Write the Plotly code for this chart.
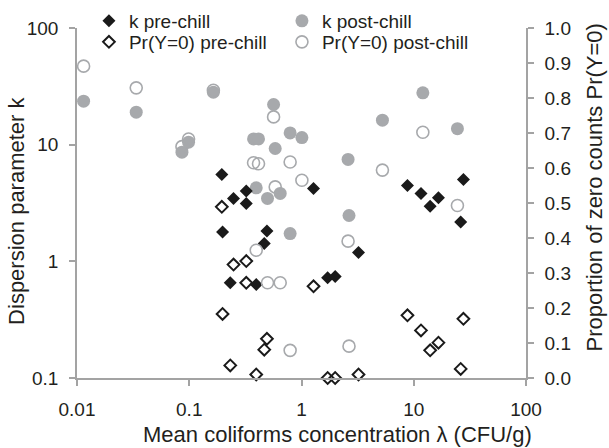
import plotly.graph_objects as go

# ---- data ----
# pre-chill: mean concentration, dispersion k, Pr(Y=0)
pre_lambda = [0.195, 0.198, 0.248, 0.322, 0.322, 0.232, 0.395, 0.492, 0.466, 1.28,
              1.71, 1.995, 3.22, 8.79, 11.6, 14.0, 16.6, 27.7, 26.2]
pre_k = [5.56, 1.78, 3.46, 4.00, 3.13, 0.656, 0.634, 1.82, 1.42, 4.22,
         0.724, 0.74, 1.19, 4.47, 3.82, 2.97, 3.51, 5.04, 2.17]
pre_p0 = [0.489, 0.183, 0.324, 0.334, 0.272, 0.036, 0.010, 0.112, 0.081, 0.262,
          0.0, 0.0, 0.010, 0.179, 0.136, 0.079, 0.101, 0.169, 0.026]

# post-chill
post_lambda = [0.01145, 0.0337, 0.0861, 0.0986, 0.164, 0.564, 0.374, 0.414, 0.583, 0.792,
               1.008, 0.395, 0.498, 0.646, 0.792, 2.6, 2.65, 5.26, 12.05, 24.5]
post_k = [23.6, 19.0, 8.63, 10.5, 28.2, 22.1, 11.2, 11.2, 9.27, 12.6,
          11.5, 4.27, 3.46, 3.82, 1.73, 7.47, 2.47, 16.2, 27.8, 13.7]
post_p0 = [0.891, 0.829, 0.661, 0.683, 0.822, 0.746, 0.615, 0.612, 0.546, 0.617,
           0.565, 0.365, 0.272, 0.272, 0.079, 0.391, 0.091, 0.594, 0.702, 0.493]

series_names = ["k pre-chill", "k post-chill", "Pr(Y=0) pre-chill", "Pr(Y=0) post-chill"]
x_title = "Mean coliforms concentration λ (CFU/g)"
y_title = "Dispersion parameter k"
y2_title = "Proportion of zero counts Pr(Y=0)"
x_ticks = [0.01, 0.1, 1, 10, 100]
x_ticklabels = ["0.01", "0.1", "1", "10", "100"]
y_ticks = [0.1, 1, 10, 100]
y_ticklabels = ["0.1", "1", "10", "100"]

FONT = "Liberation Sans, Arial, sans-serif"
TXT = "#231f20"
AX = "#a3a3a3"
GREY = "#a7a9ac"

fig = go.Figure()

fig.add_trace(go.Scatter(
    x=post_lambda, y=post_k, mode="markers", name=series_names[1], legend="legend", legendrank=2,
    marker=dict(symbol="circle", size=13, color=GREY, line=dict(width=0)),
    cliponaxis=False, yaxis="y"))
fig.add_trace(go.Scatter(
    x=post_lambda, y=post_p0, mode="markers", name=series_names[3], legend="legend2", legendrank=4,
    marker=dict(symbol="circle-open", size=12, color=GREY, line=dict(width=1.6)),
    cliponaxis=False, yaxis="y2"))
fig.add_trace(go.Scatter(
    x=pre_lambda, y=pre_k, mode="markers", name=series_names[0], legend="legend", legendrank=1,
    marker=dict(symbol="diamond", size=10, color="#1a1a1a", line=dict(width=0)),
    cliponaxis=False, yaxis="y"))
fig.add_trace(go.Scatter(
    x=pre_lambda, y=pre_p0, mode="markers", name=series_names[2], legend="legend2", legendrank=3,
    marker=dict(symbol="diamond-open", size=9, color="#1a1a1a", line=dict(width=2)),
    cliponaxis=False, yaxis="y2"))

axis_common = dict(showgrid=False, zeroline=False, showline=True, linecolor=AX, linewidth=1.5,
                   ticks="outside", ticklen=6, tickwidth=1.5, tickcolor=AX, automargin=False,
                   ticklabelstandoff=7,
                   tickfont=dict(family=FONT, size=19, color=TXT))

legend_common = dict(orientation="h", xanchor="left", yanchor="middle", x=0.0266,
                     entrywidth=148, bgcolor="rgba(0,0,0,0)",
                     font=dict(family=FONT, size=19, color=TXT), itemsizing="trace")

title_font = dict(family=FONT, size=22, color=TXT)

fig.update_layout(
    width=609, height=448,
    margin=dict(l=77, r=83, t=28, b=70, autoexpand=False),
    paper_bgcolor="white", plot_bgcolor="white",
    font=dict(family=FONT, color=TXT),
    showlegend=True,
    legend=dict(y=1.02, **legend_common),
    legend2=dict(y=0.96, **legend_common),
    xaxis=dict(type="log", range=[-2, 2], tickvals=x_ticks, ticktext=x_ticklabels, **axis_common),
    yaxis=dict(type="log", range=[-1, 2], tickvals=y_ticks, ticktext=y_ticklabels, **axis_common),
    yaxis2=dict(overlaying="y", side="right", range=[0, 1], dtick=0.1, tick0=0,
                tickformat=".1f", **axis_common),
    annotations=[
        dict(text=x_title, xref="paper", yref="paper", x=0.58, y=0, xanchor="center",
             yanchor="middle", yshift=-56, showarrow=False, font=title_font),
        dict(text=y_title, xref="paper", yref="paper", x=0, y=0.476, xanchor="center",
             yanchor="middle", xshift=-60.5, textangle=-90, showarrow=False, font=title_font),
        dict(text=y2_title, xref="paper", yref="paper", x=1, y=0.543, xanchor="center",
             yanchor="middle", xshift=68.5, textangle=-90, showarrow=False, font=title_font),
    ],
)

fig.write_html("out.html", config={"displayModeBar": False},
               post_script="document.body.style.margin='0';document.body.style.overflow='hidden';")
